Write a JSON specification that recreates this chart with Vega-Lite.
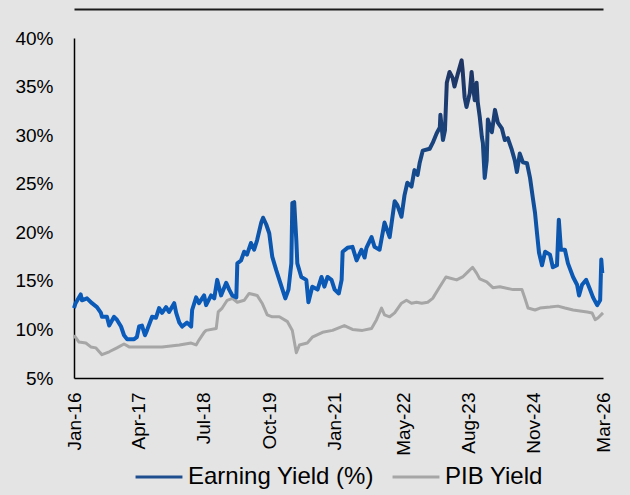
{
  "$schema": "https://vega.github.io/schema/vega-lite/v6.json",
  "width": 529,
  "height": 340,
  "autosize": {"type": "none"},
  "padding": {"left": 74, "top": 38, "right": 27, "bottom": 117},
  "background": "#e4e4e4",
  "config": {
    "view": {"stroke": null},
    "font": "Liberation Sans",
    "legend": {"layout": {"bottom": {"anchor": "middle"}}}
  },
  "datasets": {
    "earn": [
      {"d": "2016-01-01", "v": 12.2}, {"d": "2016-01-12", "v": 12.7}, {"d": "2016-02-17", "v": 13.6}, {"d": "2016-02-26", "v": 13.0},
      {"d": "2016-04-01", "v": 13.2}, {"d": "2016-05-06", "v": 12.7}, {"d": "2016-06-10", "v": 12.3}, {"d": "2016-07-08", "v": 11.7},
      {"d": "2016-07-15", "v": 11.3}, {"d": "2016-08-19", "v": 11.3}, {"d": "2016-09-04", "v": 10.4}, {"d": "2016-10-08", "v": 11.3},
      {"d": "2016-10-28", "v": 11.0}, {"d": "2016-11-26", "v": 10.3}, {"d": "2016-12-17", "v": 9.4}, {"d": "2017-01-08", "v": 9.0},
      {"d": "2017-02-26", "v": 9.0}, {"d": "2017-03-17", "v": 9.2}, {"d": "2017-04-02", "v": 10.3}, {"d": "2017-04-22", "v": 10.4},
      {"d": "2017-05-13", "v": 9.4}, {"d": "2017-05-27", "v": 9.9}, {"d": "2017-07-02", "v": 11.3}, {"d": "2017-07-29", "v": 11.2},
      {"d": "2017-08-20", "v": 12.2}, {"d": "2017-09-10", "v": 11.7}, {"d": "2017-10-08", "v": 12.3}, {"d": "2017-10-29", "v": 11.8},
      {"d": "2017-12-04", "v": 12.7}, {"d": "2017-12-18", "v": 11.7}, {"d": "2018-01-09", "v": 10.7}, {"d": "2018-01-29", "v": 10.3},
      {"d": "2018-03-04", "v": 10.7}, {"d": "2018-04-02", "v": 10.3}, {"d": "2018-04-09", "v": 12.0}, {"d": "2018-05-07", "v": 13.3},
      {"d": "2018-05-27", "v": 12.7}, {"d": "2018-07-02", "v": 13.5}, {"d": "2018-07-16", "v": 12.5}, {"d": "2018-08-20", "v": 13.5},
      {"d": "2018-09-11", "v": 13.2}, {"d": "2018-10-02", "v": 15.1}, {"d": "2018-10-29", "v": 13.5}, {"d": "2018-12-04", "v": 14.8},
      {"d": "2018-12-25", "v": 14.1}, {"d": "2019-01-16", "v": 13.5}, {"d": "2019-02-13", "v": 13.3}, {"d": "2019-02-20", "v": 16.8},
      {"d": "2019-03-18", "v": 17.1}, {"d": "2019-04-09", "v": 18.0}, {"d": "2019-04-29", "v": 17.7}, {"d": "2019-05-27", "v": 18.9},
      {"d": "2019-06-18", "v": 18.2}, {"d": "2019-07-09", "v": 19.2}, {"d": "2019-08-07", "v": 21.0}, {"d": "2019-08-20", "v": 21.5},
      {"d": "2019-09-11", "v": 20.8}, {"d": "2019-10-02", "v": 19.9}, {"d": "2019-10-23", "v": 17.5}, {"d": "2019-11-20", "v": 16.1},
      {"d": "2019-12-12", "v": 15.1}, {"d": "2020-01-03", "v": 14.1}, {"d": "2020-01-23", "v": 13.2}, {"d": "2020-02-14", "v": 14.1},
      {"d": "2020-03-05", "v": 16.8}, {"d": "2020-03-12", "v": 23.0}, {"d": "2020-03-25", "v": 23.1}, {"d": "2020-04-09", "v": 19.2},
      {"d": "2020-04-16", "v": 16.8}, {"d": "2020-05-14", "v": 15.4}, {"d": "2020-06-18", "v": 15.1}, {"d": "2020-07-03", "v": 12.8},
      {"d": "2020-07-30", "v": 14.4}, {"d": "2020-09-05", "v": 14.1}, {"d": "2020-10-03", "v": 15.4}, {"d": "2020-10-23", "v": 14.4},
      {"d": "2020-11-14", "v": 15.4}, {"d": "2020-12-12", "v": 15.1}, {"d": "2021-01-03", "v": 14.1}, {"d": "2021-02-01", "v": 13.7},
      {"d": "2021-02-21", "v": 15.1}, {"d": "2021-02-28", "v": 18.0}, {"d": "2021-04-03", "v": 18.4}, {"d": "2021-05-08", "v": 18.5},
      {"d": "2021-06-06", "v": 17.1}, {"d": "2021-07-10", "v": 18.2}, {"d": "2021-08-01", "v": 17.4}, {"d": "2021-08-14", "v": 18.4},
      {"d": "2021-09-19", "v": 19.5}, {"d": "2021-10-10", "v": 18.5}, {"d": "2021-11-14", "v": 18.2}, {"d": "2021-12-19", "v": 21.0},
      {"d": "2022-01-24", "v": 19.5}, {"d": "2022-02-28", "v": 23.2}, {"d": "2022-03-19", "v": 22.8}, {"d": "2022-04-17", "v": 21.6},
      {"d": "2022-05-08", "v": 23.8}, {"d": "2022-05-28", "v": 25.1}, {"d": "2022-06-26", "v": 24.7}, {"d": "2022-07-17", "v": 26.4},
      {"d": "2022-08-08", "v": 25.9}, {"d": "2022-08-22", "v": 27.1}, {"d": "2022-09-13", "v": 28.4}, {"d": "2022-11-01", "v": 28.6},
      {"d": "2022-11-22", "v": 29.2}, {"d": "2022-12-20", "v": 30.2}, {"d": "2023-01-11", "v": 30.8}, {"d": "2023-01-15", "v": 32.1},
      {"d": "2023-02-02", "v": 29.5}, {"d": "2023-02-16", "v": 30.5}, {"d": "2023-03-01", "v": 35.4}, {"d": "2023-03-20", "v": 36.5},
      {"d": "2023-04-11", "v": 35.9}, {"d": "2023-04-24", "v": 35.0}, {"d": "2023-05-15", "v": 36.2}, {"d": "2023-06-13", "v": 37.7},
      {"d": "2023-06-20", "v": 36.7}, {"d": "2023-07-04", "v": 33.9}, {"d": "2023-07-17", "v": 32.9}, {"d": "2023-08-09", "v": 34.3},
      {"d": "2023-08-22", "v": 36.5}, {"d": "2023-08-29", "v": 35.4}, {"d": "2023-09-13", "v": 33.6}, {"d": "2023-09-26", "v": 35.4},
      {"d": "2023-10-04", "v": 33.4}, {"d": "2023-10-18", "v": 31.9}, {"d": "2023-11-02", "v": 29.8}, {"d": "2023-11-09", "v": 29.2},
      {"d": "2023-11-22", "v": 25.6}, {"d": "2023-12-06", "v": 27.4}, {"d": "2023-12-14", "v": 31.6}, {"d": "2024-01-11", "v": 30.3},
      {"d": "2024-02-02", "v": 32.6}, {"d": "2024-02-22", "v": 31.3}, {"d": "2024-03-21", "v": 30.7}, {"d": "2024-04-11", "v": 29.5},
      {"d": "2024-05-02", "v": 29.7}, {"d": "2024-05-30", "v": 28.5}, {"d": "2024-06-20", "v": 27.4}, {"d": "2024-07-05", "v": 26.2},
      {"d": "2024-07-25", "v": 28.1}, {"d": "2024-08-16", "v": 27.2}, {"d": "2024-09-14", "v": 27.1}, {"d": "2024-10-05", "v": 25.6},
      {"d": "2024-10-25", "v": 23.5}, {"d": "2024-11-09", "v": 22.0}, {"d": "2024-11-23", "v": 19.9}, {"d": "2024-12-07", "v": 17.9},
      {"d": "2024-12-28", "v": 16.6}, {"d": "2025-01-19", "v": 18.0}, {"d": "2025-02-22", "v": 17.7}, {"d": "2025-03-14", "v": 16.4},
      {"d": "2025-04-12", "v": 16.6}, {"d": "2025-04-25", "v": 21.3}, {"d": "2025-05-10", "v": 18.2}, {"d": "2025-06-07", "v": 18.2},
      {"d": "2025-06-28", "v": 16.8}, {"d": "2025-08-03", "v": 15.4}, {"d": "2025-08-31", "v": 14.6}, {"d": "2025-09-14", "v": 13.5},
      {"d": "2025-10-05", "v": 14.6}, {"d": "2025-11-03", "v": 15.1}, {"d": "2025-11-30", "v": 14.1}, {"d": "2025-12-21", "v": 13.3},
      {"d": "2026-01-19", "v": 12.5}, {"d": "2026-02-09", "v": 13.0}, {"d": "2026-02-17", "v": 17.2}, {"d": "2026-02-24", "v": 15.8}
    ],
    "pib": [
      {"d": "2016-01-01", "v": 9.4}, {"d": "2016-02-05", "v": 8.7}, {"d": "2016-03-24", "v": 8.6}, {"d": "2016-04-28", "v": 8.2},
      {"d": "2016-06-03", "v": 8.1}, {"d": "2016-07-15", "v": 7.4}, {"d": "2016-09-04", "v": 7.7}, {"d": "2016-10-28", "v": 8.1},
      {"d": "2016-12-17", "v": 8.5}, {"d": "2017-01-22", "v": 8.2}, {"d": "2017-05-20", "v": 8.2}, {"d": "2017-09-10", "v": 8.2},
      {"d": "2018-01-09", "v": 8.4}, {"d": "2018-04-02", "v": 8.6}, {"d": "2018-05-07", "v": 8.4}, {"d": "2018-05-27", "v": 8.9},
      {"d": "2018-07-02", "v": 9.7}, {"d": "2018-07-16", "v": 9.9}, {"d": "2018-09-25", "v": 10.1}, {"d": "2018-10-09", "v": 11.8},
      {"d": "2018-11-06", "v": 12.2}, {"d": "2018-12-11", "v": 13.0}, {"d": "2019-01-16", "v": 13.2}, {"d": "2019-02-20", "v": 12.8},
      {"d": "2019-04-09", "v": 13.0}, {"d": "2019-05-14", "v": 13.7}, {"d": "2019-07-09", "v": 13.5}, {"d": "2019-08-13", "v": 12.7},
      {"d": "2019-09-18", "v": 11.5}, {"d": "2019-10-23", "v": 11.3}, {"d": "2019-12-12", "v": 11.3}, {"d": "2020-02-07", "v": 10.8},
      {"d": "2020-03-12", "v": 9.9}, {"d": "2020-04-09", "v": 7.6}, {"d": "2020-05-01", "v": 8.4}, {"d": "2020-06-25", "v": 8.6},
      {"d": "2020-07-30", "v": 9.2}, {"d": "2020-10-10", "v": 9.7}, {"d": "2020-12-19", "v": 9.9}, {"d": "2021-03-12", "v": 10.4},
      {"d": "2021-05-08", "v": 10.0}, {"d": "2021-07-17", "v": 9.9}, {"d": "2021-09-19", "v": 10.1}, {"d": "2021-10-24", "v": 11.0},
      {"d": "2021-11-28", "v": 12.2}, {"d": "2021-12-19", "v": 11.5}, {"d": "2022-01-24", "v": 11.3}, {"d": "2022-02-28", "v": 11.7},
      {"d": "2022-04-17", "v": 12.7}, {"d": "2022-05-22", "v": 13.0}, {"d": "2022-06-26", "v": 12.7}, {"d": "2022-08-01", "v": 12.8},
      {"d": "2022-09-06", "v": 12.7}, {"d": "2022-10-18", "v": 12.8}, {"d": "2022-11-22", "v": 13.2}, {"d": "2023-01-11", "v": 14.4},
      {"d": "2023-02-23", "v": 15.4}, {"d": "2023-03-20", "v": 15.3}, {"d": "2023-05-09", "v": 15.1}, {"d": "2023-06-20", "v": 15.4},
      {"d": "2023-07-25", "v": 15.9}, {"d": "2023-08-29", "v": 16.4}, {"d": "2023-09-26", "v": 15.8}, {"d": "2023-10-18", "v": 15.2},
      {"d": "2023-12-06", "v": 14.9}, {"d": "2024-01-18", "v": 14.3}, {"d": "2024-03-07", "v": 14.4}, {"d": "2024-06-07", "v": 14.1},
      {"d": "2024-08-09", "v": 14.1}, {"d": "2024-08-30", "v": 13.2}, {"d": "2024-09-21", "v": 12.2}, {"d": "2024-11-09", "v": 12.0},
      {"d": "2024-12-14", "v": 12.2}, {"d": "2025-02-22", "v": 12.3}, {"d": "2025-04-19", "v": 12.4}, {"d": "2025-06-07", "v": 12.2},
      {"d": "2025-08-03", "v": 12.0}, {"d": "2025-11-10", "v": 11.8}, {"d": "2025-12-14", "v": 11.7}, {"d": "2026-01-05", "v": 11.0},
      {"d": "2026-01-26", "v": 11.2}, {"d": "2026-03-01", "v": 11.7}
    ]
  },
  "resolve": {"axis": {"x": "independent"}},
  "layer": [
    {
      "data": {"name": "pib"},
      "mark": {"type": "line", "strokeWidth": 3, "strokeJoin": "round"},
      "encoding": {
        "x": {
          "field": "d", "type": "temporal",
          "scale": {"type": "utc", "domain": [{"year": 2016, "month": 1, "date": 1, "utc": true}, {"year": 2026, "month": 3, "date": 1, "utc": true}]},
          "axis": {
            "values": [
              {"year": 2016, "month": 1, "date": 1, "utc": true}, {"year": 2017, "month": 4, "date": 1, "utc": true},
              {"year": 2018, "month": 7, "date": 1, "utc": true}, {"year": 2019, "month": 10, "date": 1, "utc": true},
              {"year": 2021, "month": 1, "date": 1, "utc": true}, {"year": 2022, "month": 5, "date": 1, "utc": true},
              {"year": 2023, "month": 8, "date": 1, "utc": true}, {"year": 2024, "month": 11, "date": 1, "utc": true},
              {"year": 2026, "month": 3, "date": 1, "utc": true}
            ],
            "format": "%b-%y", "labelAngle": -90, "labelFontSize": 19, "labelColor": "#000000",
            "labelPadding": 14, "ticks": false, "grid": false, "domainColor": "#000000", "domainWidth": 1.5,
            "title": null, "labelOverlap": false, "labelFlush": false
          }
        },
        "y": {
          "field": "v", "type": "quantitative",
          "scale": {"domain": [5, 40], "nice": false, "zero": false},
          "axis": {
            "values": [5, 10, 15, 20, 25, 30, 35, 40], "labelExpr": "datum.value + '%'",
            "labelFontSize": 19, "labelColor": "#000000", "labelPadding": 21, "ticks": false, "grid": false,
            "domainColor": "#000000", "domainWidth": 1.5, "title": null, "labelFlush": false
          }
        },
        "color": {
          "datum": "PIB Yield",
          "scale": {"domain": ["Earning Yield (%)", "PIB Yield"], "range": ["#1f4e8f", "#a6a6a6"]},
          "legend": {
            "orient": "bottom", "direction": "horizontal", "title": null, "symbolType": "stroke",
            "symbolSize": 2200, "symbolStrokeWidth": 3, "labelFontSize": 24, "labelColor": "#000000",
            "labelOffset": 4, "columnPadding": 12, "offset": -4, "labelLimit": 400
          }
        }
      }
    },
    {
      "data": {"name": "earn"},
      "mark": {
        "type": "line", "strokeWidth": 4, "strokeJoin": "round",
        "stroke": {
          "gradient": "linear", "x1": 0, "y1": 1, "x2": 0, "y2": 0,
          "stops": [
            {"offset": 0, "color": "#0a5cbd"},
            {"offset": 0.35, "color": "#0b57b0"},
            {"offset": 0.65, "color": "#174683"},
            {"offset": 1, "color": "#1f3461"}
          ]
        }
      },
      "encoding": {
        "x": {
          "field": "d", "type": "temporal",
          "axis": {"orient": "top", "labels": false, "ticks": false, "grid": false, "domainColor": "#1a1a1a", "domainWidth": 2, "offset": 29, "title": null}
        },
        "y": {"field": "v", "type": "quantitative"}
      }
    }
  ]
}
